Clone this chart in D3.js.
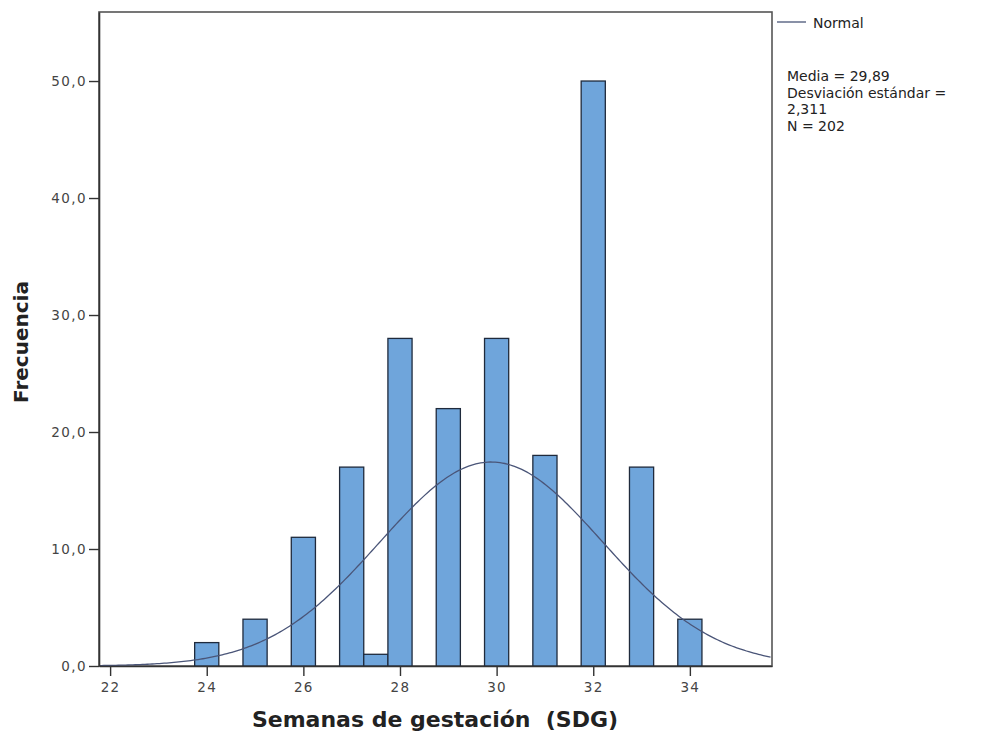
<!DOCTYPE html>
<html>
<head>
<meta charset="utf-8">
<script src="https://cdn.jsdelivr.net/npm/d3@7"></script>
<style>
  body { margin: 0; background: #fff; }
  svg text { font-family: "DejaVu Sans", sans-serif; }
</style>
</head>
<body>
<div id="chart"></div>
<script>
// bin centres (weeks), bin width 0.5
let binCenters = [24, 25, 26, 27, 27.5, 28, 29, 30, 31, 32, 33, 34];
let frequencies = [2, 4, 11, 17, 1, 28, 22, 28, 18, 50, 17, 4];
let xTicks = [22, 24, 26, 28, 30, 32, 34];
let yTicks = [0, 10, 20, 30, 40, 50];
let statLines = ["Media = 29,89", "Desviación estándar =", "2,311", "N = 202"];
let mean = 29.89, sd = 2.311, n = 202, binWidth = 0.5;

let width = 993, height = 734;
let plot = {left: 99, right: 772, top: 12, bottom: 666};

let svg = d3.select("#chart").append("svg").attr("width", width).attr("height", height);

let x = d3.scaleLinear().domain([21.77, 35.7]).range([plot.left, plot.right]);
let y = d3.scaleLinear().domain([0, 55.9]).range([plot.bottom, plot.top]);

//Frame
svg.append("rect").attr("x", plot.left).attr("y", plot.top)
    .attr("width", plot.right - plot.left).attr("height", plot.bottom - plot.top)
    .attr("fill", "#fff").attr("stroke", "#555").attr("stroke-width", 1.6);

//Bars
svg.append("g").selectAll("rect")
    .data(binCenters.map((c, i) => ({c: c, f: frequencies[i]}))).enter()
    .append("rect")
    .attr("x", d => x(d.c - binWidth / 2))
    .attr("y", d => y(d.f))
    .attr("width", d => x(d.c + binWidth / 2) - x(d.c - binWidth / 2))
    .attr("height", d => y(0) - y(d.f))
    .attr("fill", "#6fa5db")
    .attr("stroke", "#1f2a3c")
    .attr("stroke-width", 1.3);

//Normal curve scaled to counts
let curvePts = d3.range(x.domain()[0], x.domain()[1] + 0.001, 0.05).map(v => {
    let z = (v - mean) / sd;
    return [v, n * binWidth * Math.exp(-0.5 * z * z) / (sd * Math.sqrt(2 * Math.PI))];
});
svg.append("path").datum(curvePts)
    .attr("d", d3.line().x(d => x(d[0])).y(d => y(d[1])))
    .attr("fill", "none").attr("stroke", "#4a5578").attr("stroke-width", 1.3);

//Axes
let xAxis = svg.append("g").attr("transform", `translate(0, ${plot.bottom})`)
    .call(d3.axisBottom(x).tickValues(xTicks).tickSize(10).tickSizeOuter(0).tickPadding(6));
let yAxis = svg.append("g").attr("transform", `translate(${plot.left}, 0)`)
    .call(d3.axisLeft(y).tickValues(yTicks).tickSize(10).tickSizeOuter(0).tickPadding(2)
        .tickFormat(d => d3.format(".1f")(d).replace(".", ",")));
[xAxis, yAxis].forEach(a => {
    a.select(".domain").attr("stroke", "#333").attr("stroke-width", 1.6);
    a.selectAll(".tick line").attr("stroke", "#333").attr("stroke-width", 1.4);
    a.selectAll(".tick text").attr("fill", "#444").attr("font-size", 13.5)
        .attr("letter-spacing", 1.4).attr("font-family", "DejaVu Sans");
});

//Axis titles
svg.append("text").attr("x", 435).attr("y", 727)
    .attr("text-anchor", "middle").attr("font-size", 22).attr("font-weight", "bold")
    .attr("fill", "#222").style("white-space", "pre").text("Semanas de gestación  (SDG)");
svg.append("text").attr("transform", `translate(28, ${342}) rotate(-90)`)
    .attr("text-anchor", "middle").attr("font-size", 20).attr("font-weight", "bold")
    .attr("fill", "#222").text("Frecuencia");

//Legend
svg.append("line").attr("x1", 777).attr("x2", 806).attr("y1", 22).attr("y2", 22)
    .attr("stroke", "#4a5578").attr("stroke-width", 1.3);
svg.append("text").attr("x", 813).attr("y", 28).attr("font-size", 14).attr("fill", "#222").text("Normal");
svg.append("g").selectAll("text").data(statLines).enter().append("text")
    .attr("x", 787).attr("y", (d, i) => 81 + i * 16.7)
    .attr("font-size", 14).attr("fill", "#222").text(d => d);
</script>
</body>
</html>
